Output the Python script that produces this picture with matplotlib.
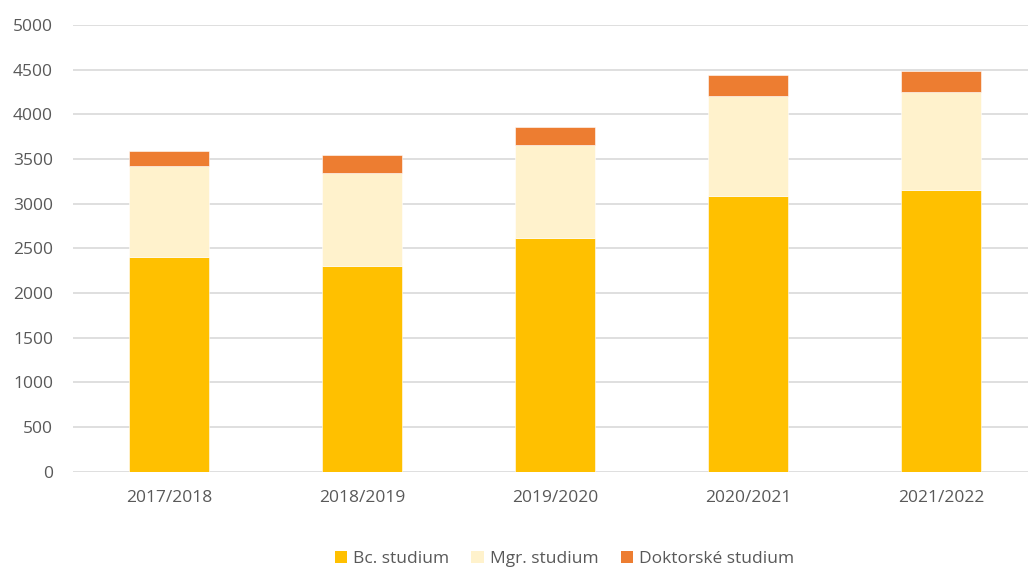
import matplotlib
matplotlib.use("Agg")
import matplotlib.pyplot as plt
from matplotlib.patches import Patch
import numpy as np

years = ["2017/2018", "2018/2019", "2019/2020", "2020/2021", "2021/2022"]
bc = [2400, 2300, 2620, 3090, 3150]
mgr = [1020, 1045, 1040, 1120, 1095]
phd = [175, 195, 200, 235, 240]
series_names = ["Bc. studium", "Mgr. studium", "Doktorské studium"]
colors = ["#FFC000", "#FFF2CC", "#ED7D31"]
yticks = [0, 500, 1000, 1500, 2000, 2500, 3000, 3500, 4000, 4500, 5000]

plt.rcParams["font.family"] = ["Open Sans", "DejaVu Sans"]

fig = plt.figure(figsize=(10.28, 5.67), dpi=100)
ax = fig.add_axes([72.5 / 1028, 95.3 / 567, (1028 - 72.5) / 1028, 446.7 / 567])

x = np.arange(len(years))
width = 0.41
bottom = np.zeros(len(years))
for vals, col in zip([bc, mgr, phd], colors):
    ax.bar(x, vals, width, bottom=bottom, color=col, edgecolor="white",
           linewidth=0.4, zorder=3)
    bottom += np.array(vals)

ax.set_xlim(-0.5, -0.5 + (1028 - 72.5) / 193)
ax.set_ylim(0, 5000)
ax.set_yticks(yticks)
ax.set_xticks(x)
ax.set_xticklabels(years)
ax.yaxis.grid(True, color="#d9d9d9", linewidth=1.2, zorder=0)
ax.set_axisbelow(True)
for s in ax.spines.values():
    s.set_visible(False)
ax.tick_params(axis="both", length=0, labelsize=12.5, labelcolor="#595959")
ax.tick_params(axis="y", pad=14)
ax.tick_params(axis="x", pad=13)

handles = [Patch(facecolor=c, edgecolor="none") for c in colors]
fig.legend(handles, series_names, loc="center", bbox_to_anchor=(0.549, 0.014),
           ncol=3, frameon=False, fontsize=12.5, handlelength=0.7,
           handleheight=0.7, handletextpad=0.35, columnspacing=1.3,
           labelcolor="#595959")

fig.savefig("out.png", dpi=100)
